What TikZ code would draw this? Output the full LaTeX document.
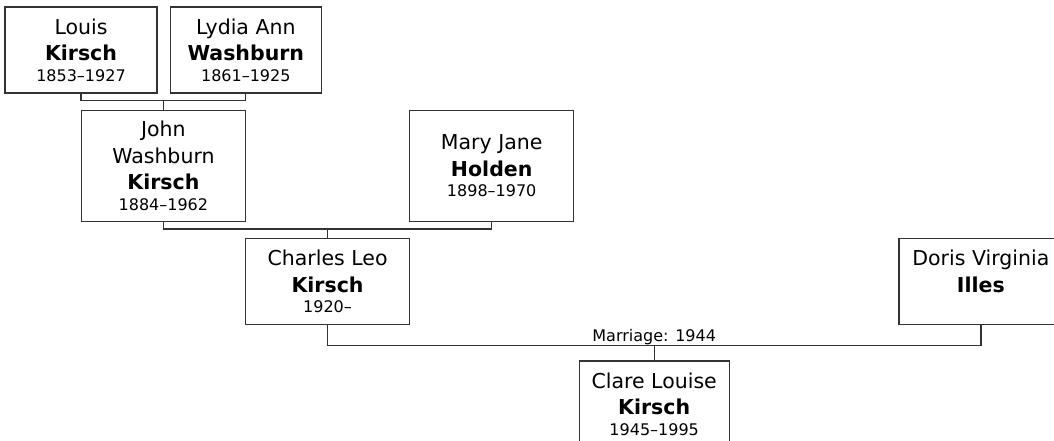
\documentclass[tikz,border=0pt]{standalone}
\usepackage{fontspec}
\setmainfont{DejaVu Sans}
\usetikzlibrary{positioning,calc}
\newcommand{\yrs}[1]{{\fontsize{16}{20}\selectfont #1}}

\begin{document}
\begin{tikzpicture}[
  x=1pt, y=1pt,
  person/.style={draw=black!80, line width=1.3pt, align=center, inner sep=0pt,
    minimum width=164pt, minimum height=86pt, font=\fontsize{20.5}{26.5}\selectfont},
  link/.style={draw=black!80, line width=1.3pt},
  note/.style={font=\fontsize{16}{20}\selectfont, inner sep=0pt},
]
  \useasboundingbox (0,0) rectangle (1054,-441);

  % Great-grandparents
  \node[person, minimum width=152pt] (louis) at (81,-50)
    {Louis\\\textbf{Kirsch}\\[-6pt]\yrs{1853--1927}};
  \node[person, minimum width=151pt, right=12pt of louis] (lydia)
    {Lydia Ann\\\textbf{Washburn}\\[-6pt]\yrs{1861--1925}};
  \coordinate (u1) at ($(louis.south)!0.5!(lydia.south)+(0,-7)$);
  \draw[link] (louis.south) |- (u1) -| (lydia.south);

  % Grandparents
  \node[person, minimum height=111pt, below=9pt of u1] (john)
    {John\\Washburn\\\textbf{Kirsch}\\[-6pt]\yrs{1884--1962}};
  \draw[link] (u1) -- (john);
  \node[person, minimum height=111pt, right=163pt of john] (mary)
    {Mary Jane\\\textbf{Holden}\\[-6pt]\yrs{1898--1970}};
  \coordinate (u2) at ($(john.south)!0.5!(mary.south)+(0,-7)$);
  \draw[link] (john.south) |- (u2) -| (mary.south);

  % Parents
  \node[person, below=9pt of u2] (charles)
    {Charles Leo\\\textbf{Kirsch}\\[-6pt]\yrs{1920--}};
  \draw[link] (u2) -- (charles);
  \node[person, right=488pt of charles] (doris)
    {Doris Virginia\\\textbf{Illes}\\[-6pt]\yrs{\phantom{1920}}};
  \coordinate (u3) at ($(charles.south)!0.5!(doris.south)+(0,-20)$);
  \draw[link] (charles.south) |- (u3) -| (doris.south);
  \node[note, above=0pt of u3] (wed) {Marriage: 1944};

  % Child
  \node[person, minimum width=150pt, below=15pt of u3] (clare)
    {Clare Louise\\\textbf{Kirsch}\\[-6pt]\yrs{1945--1995}};
  \draw[link] (u3) -- (clare);
\end{tikzpicture}
\end{document}
